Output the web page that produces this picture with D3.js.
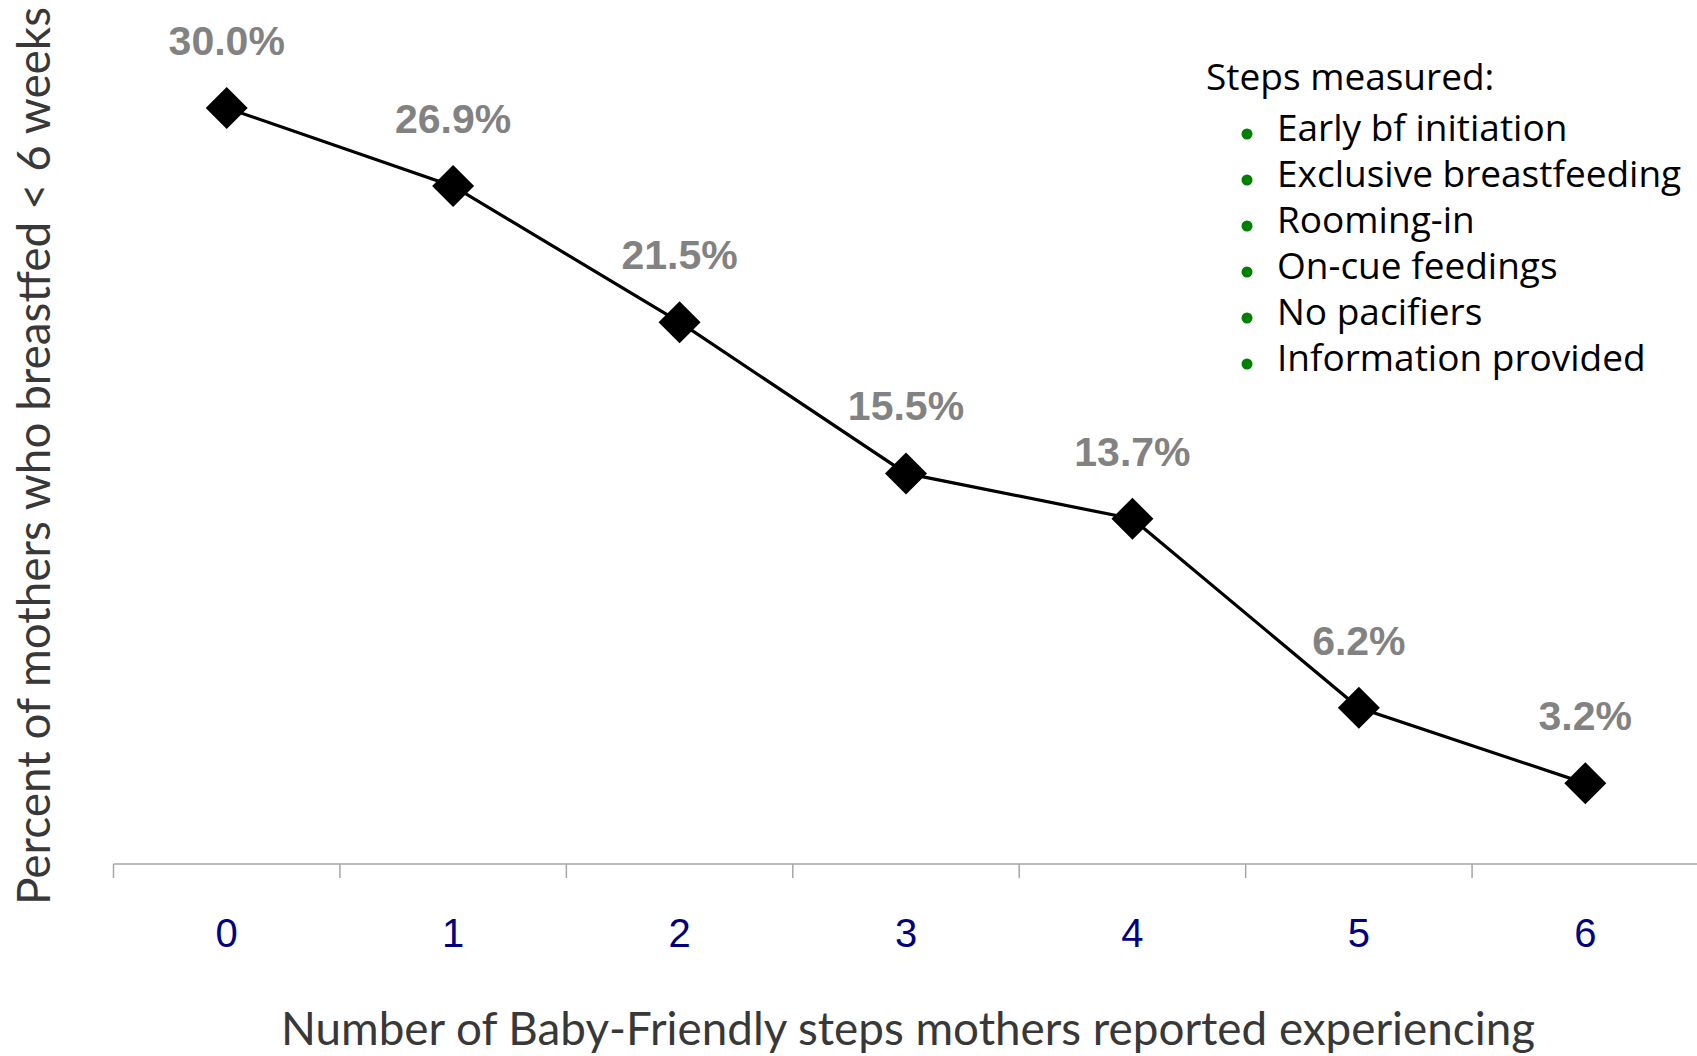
<!DOCTYPE html>
<html>
<head>
<meta charset="utf-8">
<script src="https://cdn.jsdelivr.net/npm/d3@7/dist/d3.min.js"></script>
<style>
  html, body { margin: 0; padding: 0; background: #fff; }
  svg { display: block; }
</style>
</head>
<body>
<script>
// ---- data ----
const steps = [0, 1, 2, 3, 4, 5, 6];
const percents = [30.0, 26.9, 21.5, 15.5, 13.7, 6.2, 3.2];
const pointLabels = ["30.0%", "26.9%", "21.5%", "15.5%", "13.7%", "6.2%", "3.2%"];
const legendTitle = "Steps measured:";
const legendItems = ["Early bf initiation", "Exclusive breastfeeding", "Rooming-in",
                     "On-cue feedings", "No pacifiers", "Information provided"];
const xTitle = "Number of Baby-Friendly steps mothers reported experiencing";
const yTitle = "Percent of mothers who breastfed < 6 weeks";

// ---- layout ----
const W = 1697, H = 1056;
const svg = d3.select("body").append("svg").attr("width", W).attr("height", H);

const x = d3.scaleBand().domain(steps).range([113.5, 1698.5]).padding(0);
const y = d3.scaleLinear().domain([0, 35]).range([864, 864 - 35 * 25.2]);
const cx = d => x(d) + x.bandwidth() / 2;

// axis line + ticks at band boundaries
const axisG = svg.append("g").attr("transform", `translate(0,${y(0)})`);
axisG.append("line").attr("x1", x.range()[0]).attr("x2", W)
  .attr("stroke", "#a6a6a6").attr("stroke-width", 1.5);
axisG.selectAll("line.tick").data(steps).enter().append("line")
  .attr("class", "tick")
  .attr("x1", d => x(d)).attr("x2", d => x(d))
  .attr("y1", 0).attr("y2", 14)
  .attr("stroke", "#a6a6a6").attr("stroke-width", 1.5);

// tick labels via d3 axis
const labelAxis = d3.axisBottom(x).tickSize(0).tickPadding(0);
const la = svg.append("g").attr("transform", `translate(0,${y(0)})`).call(labelAxis);
la.select(".domain").remove();
la.selectAll("text")
  .attr("y", 83).attr("dy", null)
  .attr("font-family", "'Liberation Sans', Arial, sans-serif")
  .attr("font-size", 40)
  .attr("fill", "#000080");

// line
const line = d3.line().x((d, i) => cx(steps[i])).y(d => y(d));
svg.append("path").datum(percents)
  .attr("d", line).attr("fill", "none")
  .attr("stroke", "#000").attr("stroke-width", 3.2);

// diamonds
const diamond = "M0,-21L21,0L0,21L-21,0Z";
svg.selectAll("path.pt").data(percents).enter().append("path")
  .attr("class", "pt")
  .attr("d", diamond)
  .attr("transform", (d, i) => `translate(${cx(steps[i])},${y(d)})`)
  .attr("fill", "#000");

// value labels
svg.selectAll("text.val").data(percents).enter().append("text")
  .attr("class", "val")
  .attr("x", (d, i) => cx(steps[i]))
  .attr("y", d => y(d) - 53)
  .attr("text-anchor", "middle")
  .attr("font-family", "'Liberation Sans', Arial, sans-serif")
  .attr("font-weight", "bold")
  .attr("font-size", 41)
  .attr("fill", "#828282")
  .text((d, i) => pointLabels[i]);

// axis titles
svg.append("text")
  .attr("x", 281).attr("y", 1045)
  .attr("textLength", 1254).attr("lengthAdjust", "spacingAndGlyphs")
  .attr("font-family", "Lato, 'Open Sans', sans-serif")
  .attr("font-size", 46)
  .attr("fill", "#383838")
  .text(xTitle);

svg.append("text")
  .attr("transform", "translate(50,905) rotate(-90)")
  .attr("x", 0).attr("y", 0)
  .attr("textLength", 898).attr("lengthAdjust", "spacingAndGlyphs")
  .attr("font-family", "Lato, 'Open Sans', sans-serif")
  .attr("font-size", 46)
  .attr("fill", "#383838")
  .text(yTitle);

// legend
const lg = svg.append("g");
lg.append("text")
  .attr("x", 1206).attr("y", 90)
  .attr("font-family", "'Open Sans', Lato, sans-serif")
  .attr("font-size", 37)
  .attr("fill", "#000")
  .text(legendTitle);
const items = lg.selectAll("g.item").data(legendItems).enter().append("g")
  .attr("class", "item")
  .attr("transform", (d, i) => `translate(0,${141 + i * 46})`);
items.append("circle").attr("cx", 1247).attr("cy", -7).attr("r", 5.5).attr("fill", "#008000");
items.append("text")
  .attr("x", 1277).attr("y", 0)
  .attr("font-family", "'Open Sans', Lato, sans-serif")
  .attr("font-size", 37)
  .attr("fill", "#000")
  .text(d => d);
</script>
</body>
</html>
